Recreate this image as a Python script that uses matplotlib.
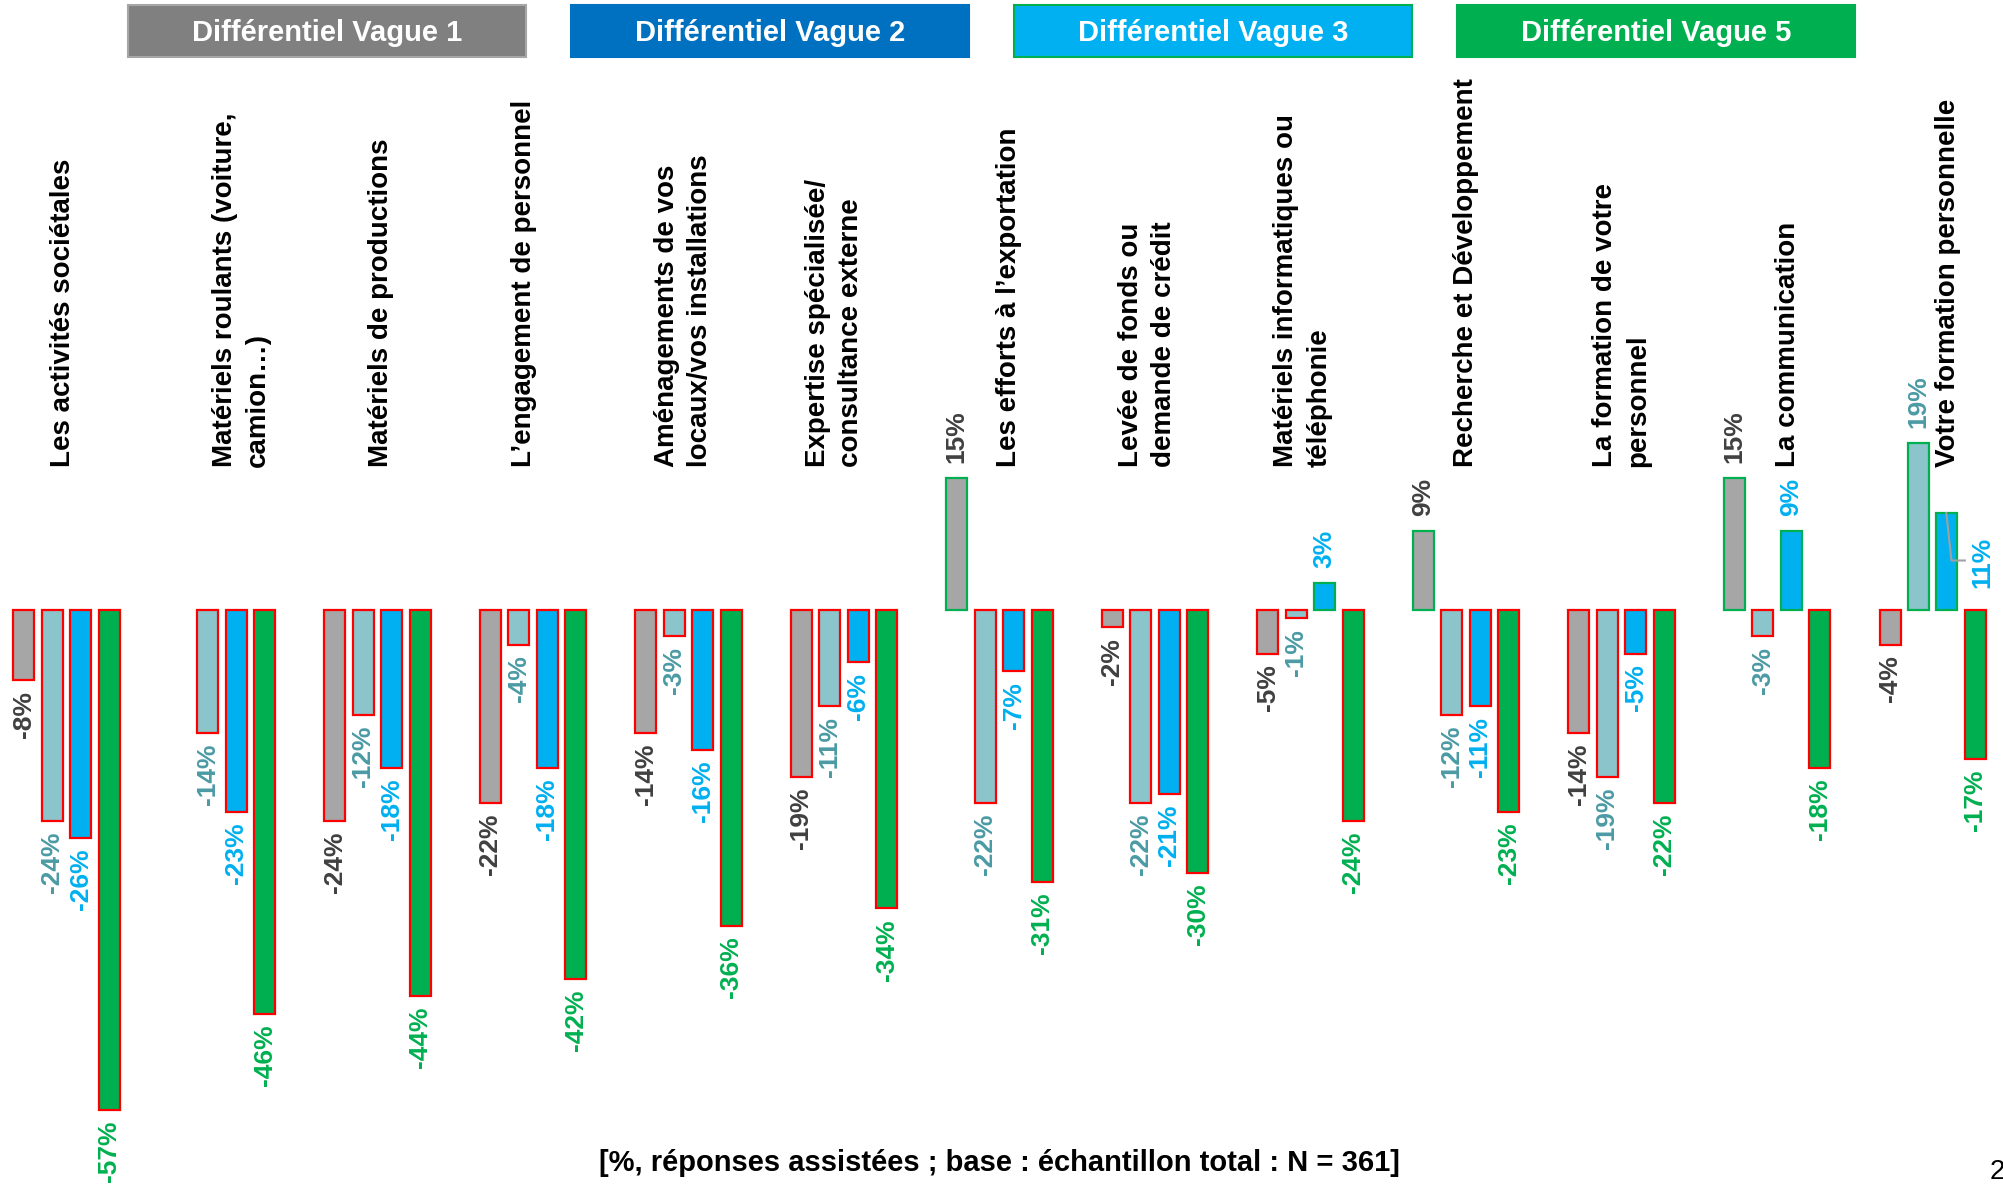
import numpy as np
import matplotlib
matplotlib.use("Agg")
import matplotlib.pyplot as plt
from matplotlib.patches import Rectangle

# --- data -------------------------------------------------------------
categories = [
    "Les activités sociétales",
    "Matériels roulants (voiture,\ncamion…)",
    "Matériels de productions",
    "L’engagement de personnel",
    "Aménagements de vos\nlocaux/vos installations",
    "Expertise spécialisée/\nconsultance externe",
    "Les efforts à l’exportation",
    "Levée de fonds ou\ndemande de crédit",
    "Matériels informatiques ou\ntéléphonie",
    "Recherche et Développement",
    "La formation de votre\npersonnel",
    "La communication",
    "Votre formation personnelle",
]
vague1 = [-8, np.nan, -24, -22, -14, -19, 15, -2, -5, 9, -14, 15, -4]
vague2 = [-24, -14, -12, -4, -3, -11, -22, -22, -1, -12, -19, -3, 19]
vague3 = [-26, -23, -18, -18, -16, -6, -7, -21, 3, -11, -5, 9, 11]
vague5 = [-57, -46, -44, -42, -36, -34, -31, -30, -24, -23, -22, -18, -17]
series_names = ["Différentiel Vague 1", "Différentiel Vague 2",
                "Différentiel Vague 3", "Différentiel Vague 5"]
footer = "[%, réponses assistées ; base : échantillon total : N = 361]"

# --- style ------------------------------------------------------------
bar_colors = ["#a6a6a6", "#8cc4cc", "#00b0f0", "#00b050"]
label_colors = ["#404040", "#4a9aa4", "#00b0f0", "#00b050"]
header_colors = ["#808080", "#0070c0", "#00b0f0", "#00b050"]
header_edges = ["#a6a6a6", "#0070c0", "#00b050", "#00b050"]
plt.rcParams["font.family"] = ["Liberation Sans", "DejaVu Sans"]

W, H = 2003, 1186
fig = plt.figure(figsize=(W / 100, H / 100), dpi=100)
ax = fig.add_axes([0, 0, 1, 1])
ax.set_xlim(-0.427, 12.452)
ax.set_ylim(-65.6, 69.4)
ax.axis("off")

slot = 0.183
bw = 0.135
offsets = [-1.5 * slot, -0.5 * slot, 0.5 * slot, 1.5 * slot]
label_dx = [-0.02, 0.125, 0.02, -0.06, -0.03, -0.06, 0.06,
            -0.05, -0.05, 0.0, 0.0, 0.07, 0.1]

x = np.arange(len(categories))
series = [vague1, vague2, vague3, vague5]
for s, vals in enumerate(series):
    vals = np.array(vals, dtype=float)
    ok = ~np.isnan(vals)
    xs = x[ok] + offsets[s]
    vs = vals[ok]
    edges = ["#00b050" if v > 0 else "#ff0000" for v in vs]
    ax.bar(xs, vs, width=bw, color=bar_colors[s], edgecolor=edges,
           linewidth=1.6, zorder=2)
    for xi, v, ci in zip(xs, vs, x[ok]):
        txt = "%d%%" % v
        if s == 2 and ci == 12:
            # label moved aside with a leader line
            ax.plot([xi - 0.004, xi + 0.029, xi + 0.115],
                    [v, 5.6, 5.6], color="#a0a0a0", lw=1.5, zorder=3)
            ax.text(12.32, 5.4, txt, rotation=90, ha="center", va="center",
                    fontsize=19, fontweight="bold", color=label_colors[s])
            continue
        if v < 0:
            ax.text(xi, v - 1.2, txt, rotation=90, ha="center", va="top",
                    fontsize=19, fontweight="bold", color=label_colors[s])
        else:
            ax.text(xi, v + 1.7, txt, rotation=90, ha="center", va="bottom",
                    fontsize=19, fontweight="bold", color=label_colors[s])

for i, cat in enumerate(categories):
    ax.text(i + label_dx[i], 16.2, cat, rotation=90, ha="center",
            va="bottom", multialignment="left", fontsize=20,
            fontweight="bold", color="black", linespacing=1.35)

# header boxes (pixel positions of the slide)
box_left = [128, 571, 1014, 1457]
box_w = 398
for i, name in enumerate(series_names):
    r = Rectangle((box_left[i] / W, 1 - 57 / H), box_w / W, 52 / H,
                  transform=fig.transFigure, facecolor=header_colors[i],
                  edgecolor=header_edges[i], linewidth=1.5)
    fig.patches.append(r)
    fig.text((box_left[i] + box_w / 2) / W, 1 - 33 / H, name,
             ha="center", va="center", color="white", fontsize=21,
             fontweight="bold")

fig.text(0.499, 1 - 1163 / H, footer, ha="center", va="center",
         fontsize=21, fontweight="bold")
fig.text(1990 / W, 1 - 1172 / H, "2", ha="left", va="center",
         fontsize=20)

fig.savefig("out.png", dpi=100)
